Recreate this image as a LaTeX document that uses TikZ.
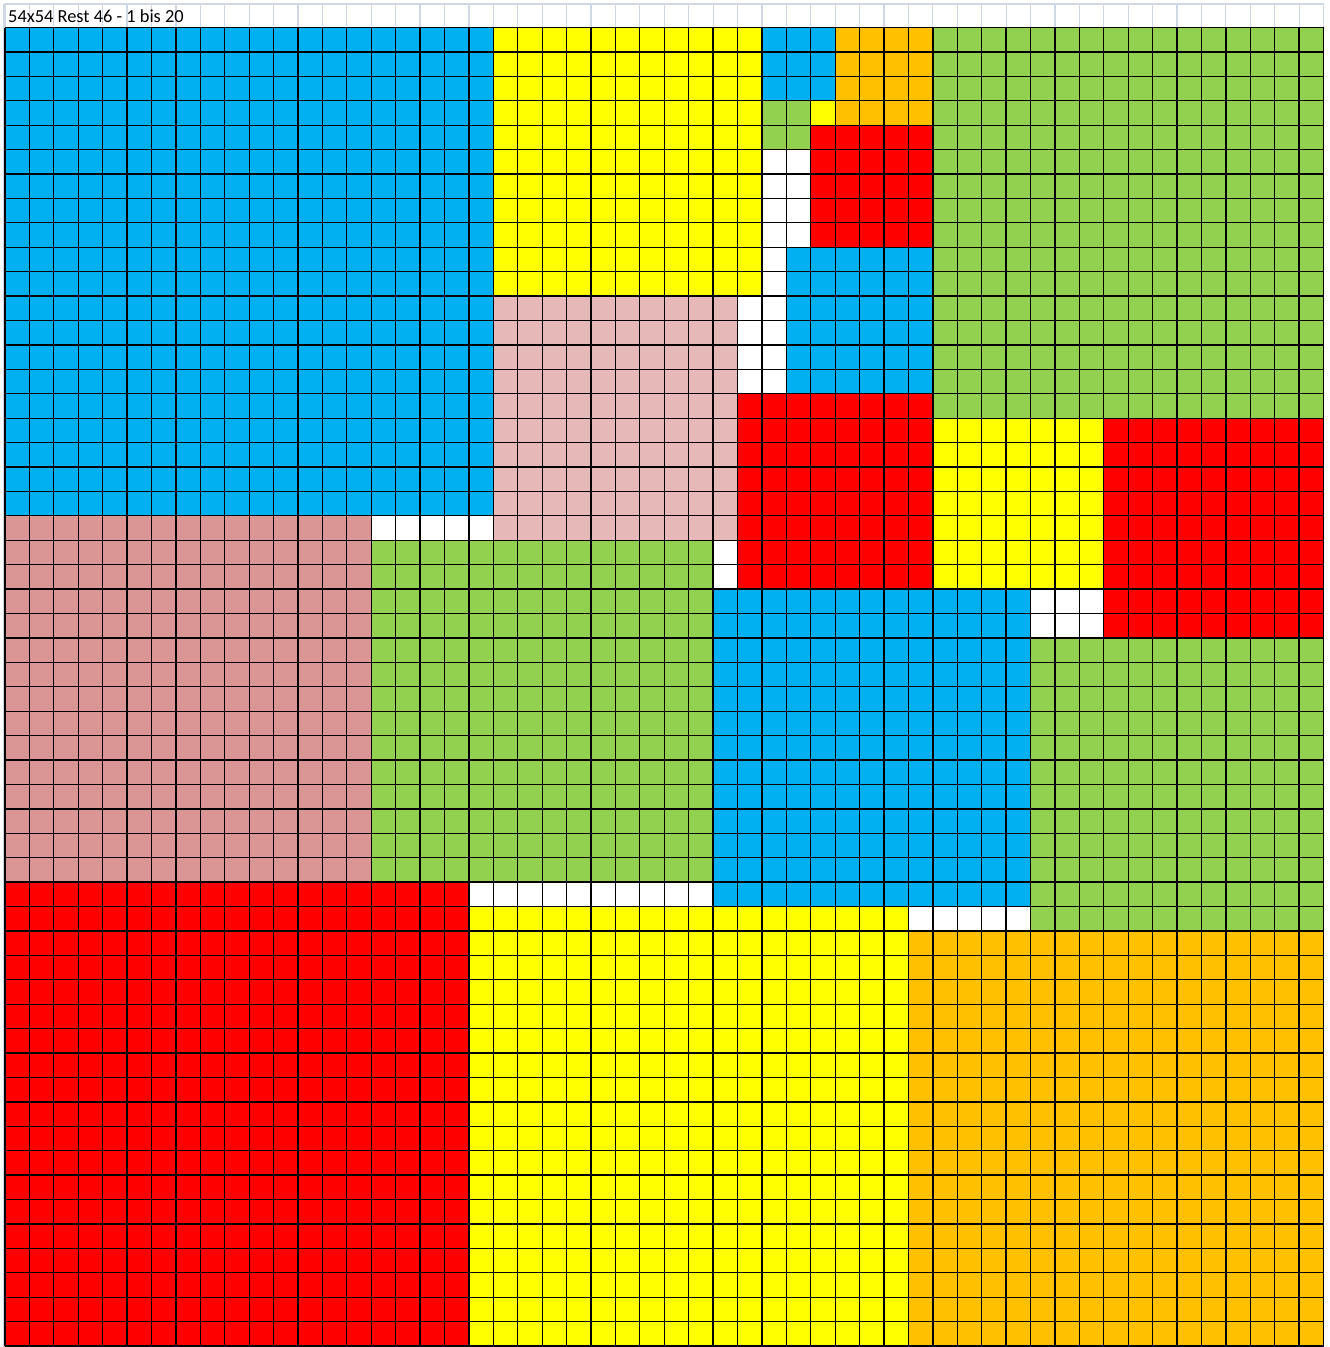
\documentclass[tikz,border=0pt]{standalone}
\usepackage{fontspec}
\setmainfont{Carlito}
\definecolor{xblue}{HTML}{00B0F0}
\definecolor{xyellow}{HTML}{FFFF00}
\definecolor{xorange}{HTML}{FFC000}
\definecolor{xgreen}{HTML}{92D050}
\definecolor{xred}{HTML}{FF0000}
\definecolor{xpinklight}{HTML}{E6B8B7}
\definecolor{xpinkdark}{HTML}{DA9694}
\definecolor{xhdr}{HTML}{D0D7E5}
\tikzset{
  hdrline/.style={draw=xhdr, line width=1.2pt},
  gridline/.style={draw=black, line width=1.3pt},
  titletext/.style={anchor=base west, inner sep=0pt, font=\fontsize{18.4}{21}\selectfont}
}
\begin{document}
\begin{tikzpicture}[x=1pt,y=-1pt]
\useasboundingbox (0,0) rectangle (1330,1347);
\fill[white] (0,0) rectangle (1330,1347);
% header row gridlines
\foreach \i in {0,...,54} \draw[hdrline] ({5+24.417*\i},4) -- ({5+24.417*\i},27.5);
\draw[hdrline] (4,4) -- (1324,4);
\draw[hdrline] (4,4) -- (4,1347);
\node[titletext] (title) at (8,22) {54x54 Rest 46 - 1 bis 20};
\begin{scope}[shift={(5,27.5)}, x=24.417pt, y=-24.417pt]
  \foreach \c/\px/\py/\n in {
    xblue/0/0/20, xyellow/20/0/11, xblue/31/0/3, xorange/34/0/4,
    xgreen/31/3/2, xyellow/33/3/1, xred/33/4/5, xblue/32/9/6,
    xgreen/38/0/16, xpinklight/20/11/10, xred/30/15/8, xyellow/38/16/7,
    xred/45/16/9, xpinkdark/0/20/15, xgreen/15/21/14, xblue/29/23/13,
    xgreen/42/25/12, xred/0/35/19, xyellow/19/36/18, xorange/37/37/17}
    \fill[\c] (\px,\py) rectangle ++(\n,\n);
  \foreach \i in {0,...,54} {
    \draw[gridline] (\i,0) -- (\i,54);
    \draw[gridline] (0,\i) -- (54,\i);
  }
\end{scope}
\end{tikzpicture}
\end{document}
